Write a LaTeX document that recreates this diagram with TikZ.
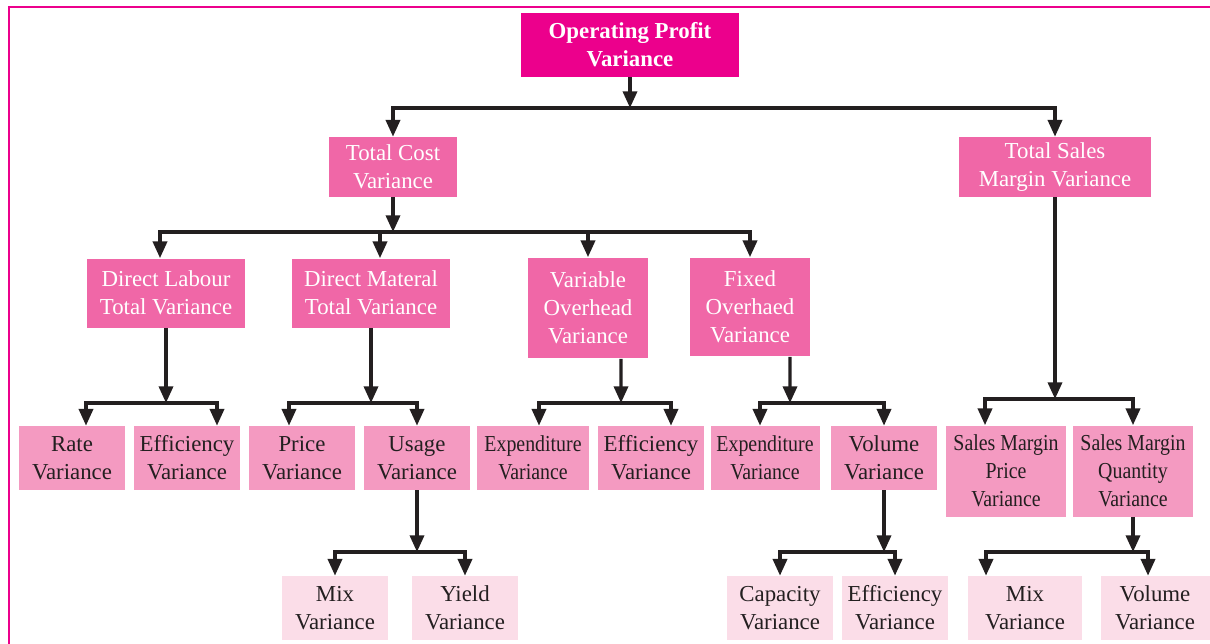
\documentclass[tikz,border=0pt]{standalone}
\usepackage{fontspec}
\setmainfont{Liberation Serif}
\newfontfamily\narrowserif[FakeStretch=0.87]{Liberation Serif}
\usetikzlibrary{arrows.meta}

\definecolor{opmagenta}{HTML}{EC008C}
\definecolor{midpink}{HTML}{F067A7}
\definecolor{leafpink}{HTML}{F49AC1}
\definecolor{subpink}{HTML}{FBDDE8}
\definecolor{inkdark}{HTML}{231F20}

\tikzset{
  box/.style={inner sep=0pt, align=center, font=\fontsize{13}{16}\selectfont},
  topbox/.style={box, fill=opmagenta, text=white, font=\fontsize{13}{16}\selectfont\bfseries},
  midbox/.style={box, fill=midpink, text=white},
  leafbox/.style={box, fill=leafpink, text=inkdark},
  subbox/.style={box, fill=subpink, text=inkdark},
  narrow/.style={font=\fontsize{13}{16}\narrowserif},
  smallbox/.style={minimum width=2.12cm, minimum height=1.28cm},
  arr/.style={line width=1.9pt, draw=inkdark, -{Triangle[length=9.5pt,width=8pt]}},
  frame/.style={line width=1.6pt, draw=opmagenta}
}

\begin{document}
\begin{tikzpicture}[x=0.02cm, y=-0.02cm]
    \useasboundingbox (0,0) rectangle (1210,643);

    % Frame
    \draw[frame] (9,7) rectangle (1240,680);

    % Top
    \node[topbox, minimum width=4.36cm, minimum height=1.28cm] (opv) at (630,45) {Operating Profit\\Variance};

    % Second level
    \node[midbox, minimum width=2.56cm, minimum height=1.2cm] (tc) at (393,167) {Total Cost\\Variance};
    \node[midbox, minimum width=3.86cm, minimum height=1.2cm] (ts) at (1055,167) {Total Sales\\Margin Variance};

    % Cost components
    \node[midbox, minimum width=3.18cm, minimum height=1.38cm] (dl) at (166,293) {Direct Labour\\Total Variance};
    \node[midbox, minimum width=3.16cm, minimum height=1.38cm] (dm) at (371,293) {Direct Materal\\Total Variance};
    \node[midbox, minimum width=2.4cm, minimum height=2.02cm] (vo) at (588,308) {Variable\\Overhead\\Variance};
    \node[midbox, minimum width=2.4cm, minimum height=1.98cm] (fo) at (750,307) {Fixed\\Overhaed\\Variance};

    % Third level
    \node[leafbox, smallbox] (rate) at (72,458) {Rate\\Variance};
    \node[leafbox, smallbox] (leff) at (187,458) {Efficiency\\Variance};
    \node[leafbox, smallbox] (price) at (302,458) {Price\\Variance};
    \node[leafbox, smallbox] (usage) at (417,458) {Usage\\Variance};
    \node[leafbox, narrow, minimum width=2.26cm, minimum height=1.28cm] (vexp) at (533,458) {Expenditure\\Variance};
    \node[leafbox, smallbox] (veff) at (651,458) {Efficiency\\Variance};
    \node[leafbox, narrow, minimum width=2.18cm, minimum height=1.28cm] (fexp) at (765,458) {Expenditure\\Variance};
    \node[leafbox, smallbox] (fvol) at (884,458) {Volume\\Variance};
    \node[leafbox, narrow, minimum width=2.4cm, minimum height=1.82cm] (smp) at (1006,471) {Sales Margin\\Price\\Variance};
    \node[leafbox, narrow, minimum width=2.4cm, minimum height=1.82cm] (smq) at (1133,471) {Sales Margin\\Quantity\\Variance};

    % Fourth level
    \node[subbox, smallbox] (mmix) at (335,608) {Mix\\Variance};
    \node[subbox, smallbox] (myld) at (465,608) {Yield\\Variance};
    \node[subbox, smallbox] (fcap) at (780,608) {Capacity\\Variance};
    \node[subbox, smallbox] (feff) at (895,608) {Efficiency\\Variance};
    \node[subbox, minimum width=2.28cm, minimum height=1.28cm] (smix) at (1025,608) {Mix\\Variance};
    \node[subbox, minimum width=2.18cm, minimum height=1.28cm] (svol) at (1155,608) {Volume\\Variance};

    % Branch points
    \coordinate (b0) at (630,108);
    \coordinate (b1) at (393,232);
    \coordinate (b2) at (166,403);
    \coordinate (b3) at (371,403);
    \coordinate (b4) at (621,403);
    \coordinate (b5) at (790,403);
    \coordinate (b6) at (1055,399);
    \coordinate (b7) at (417,552);
    \coordinate (b8) at (884,552);
    \coordinate (b9) at (1133,552);

    % Connectors
    \draw[arr] (opv) -- (b0);
    \draw[arr] (b0) -| (tc);
    \draw[arr] (b0) -| (ts);

    \draw[arr] (tc) -- (b1);
    \draw[arr] (b1) -| ([xshift=-0.12cm]dl.north);
    \draw[arr] (b1) -| ([xshift=0.18cm]dm.north);
    \draw[arr] (b1) -| (vo);
    \draw[arr] (b1) -| (fo);

    \draw[arr] (dl) -- (b2);
    \draw[arr] (b2) -| ([xshift=0.28cm]rate.north);
    \draw[arr] (b2) -| ([xshift=0.6cm]leff.north);

    \draw[arr] (dm) -- (b3);
    \draw[arr] (b3) -| ([xshift=-0.26cm]price.north);
    \draw[arr] (b3) -| (usage);

    \draw[arr] ([xshift=0.66cm]vo.south) -- (b4);
    \draw[arr] (b4) -| ([xshift=0.12cm]vexp.north);
    \draw[arr] (b4) -| ([xshift=0.4cm]veff.north);

    \draw[arr] ([xshift=0.8cm]fo.south) -- (b5);
    \draw[arr] (b5) -| ([xshift=-0.1cm]fexp.north);
    \draw[arr] (b5) -| (fvol);

    \draw[arr] (ts) -- (b6);
    \draw[arr] (b6) -| ([xshift=-0.42cm]smp.north);
    \draw[arr] (b6) -| (smq);

    \draw[arr] (usage) -- (b7);
    \draw[arr] (b7) -| (mmix);
    \draw[arr] (b7) -| (myld);

    \draw[arr] (fvol) -- (b8);
    \draw[arr] (b8) -| (fcap);
    \draw[arr] (b8) -| (feff);

    \draw[arr] (smq) -- (b9);
    \draw[arr] (b9) -| ([xshift=-0.78cm]smix.north);
    \draw[arr] (b9) -| ([xshift=-0.14cm]svol.north);
\end{tikzpicture}
\end{document}
